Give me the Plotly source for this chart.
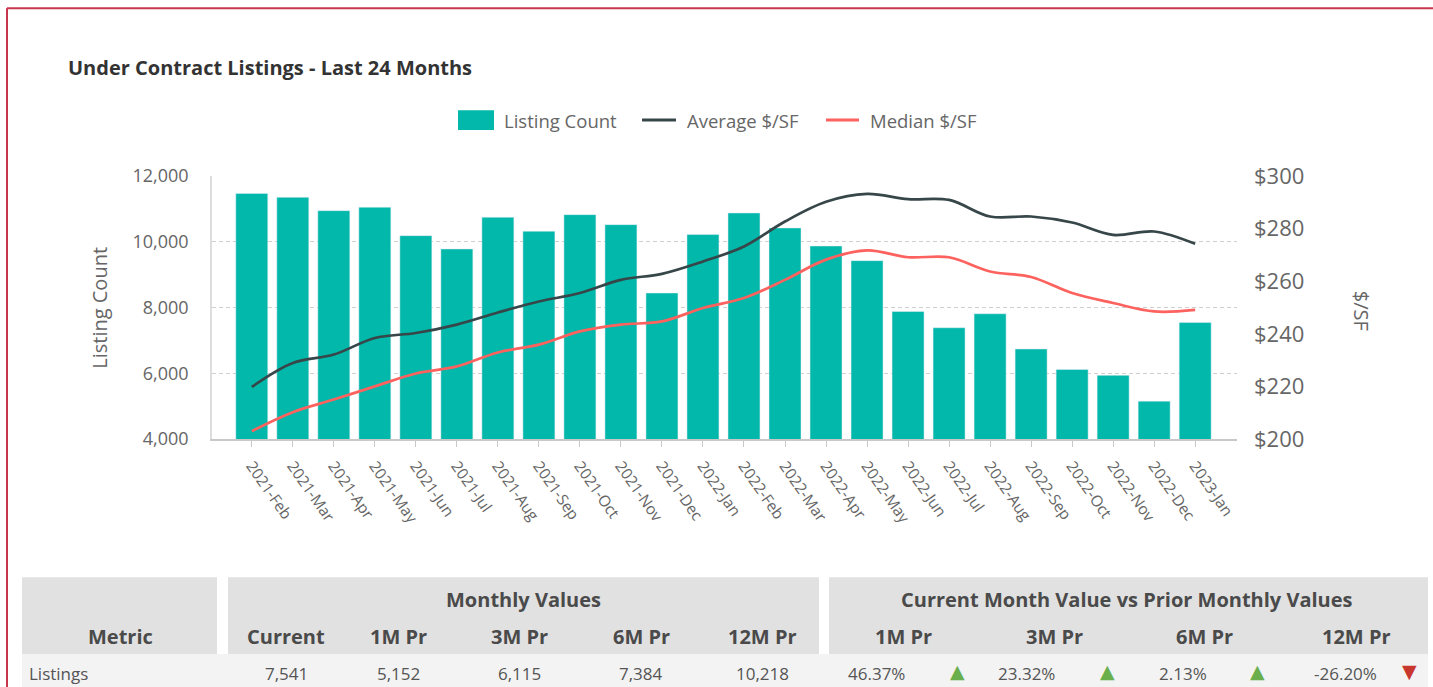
import plotly.graph_objects as go

# ---------------- data ----------------
months = ["2021-Feb", "2021-Mar", "2021-Apr", "2021-May", "2021-Jun", "2021-Jul",
          "2021-Aug", "2021-Sep", "2021-Oct", "2021-Nov", "2021-Dec", "2022-Jan",
          "2022-Feb", "2022-Mar", "2022-Apr", "2022-May", "2022-Jun", "2022-Jul",
          "2022-Aug", "2022-Sep", "2022-Oct", "2022-Nov", "2022-Dec", "2023-Jan"]
listing_count = [11470, 11350, 10945, 11050, 10185, 9780, 10745, 10320, 10825, 10520,
                 8440, 10218, 10875, 10420, 9870, 9425, 7880, 7384, 7810, 6738,
                 6115, 5937, 5152, 7541]
avg_psf = [219.8, 228.9, 232.1, 238.4, 240.3, 243.5, 248.1, 252.3, 255.5, 260.5,
           262.8, 267.5, 273.2, 282.7, 290.2, 293.2, 291.2, 290.9, 284.6, 284.6,
           282.3, 277.6, 278.9, 274.2]
med_psf = [203.0, 210.2, 215.0, 220.0, 224.9, 227.6, 232.9, 235.9, 240.9, 243.5,
           244.7, 249.8, 253.6, 260.5, 268.2, 271.7, 269.1, 269.1, 263.7, 261.6,
           255.5, 251.7, 248.5, 249.1]

table_metric = "Listings"
monthly_cols = ["Current", "1M Pr", "3M Pr", "6M Pr", "12M Pr"]
monthly_vals = ["7,541", "5,152", "6,115", "7,384", "10,218"]
compare_cols = ["1M Pr", "3M Pr", "6M Pr", "12M Pr"]
compare_vals = ["46.37%", "23.32%", "2.13%", "-26.20%"]
compare_up = [True, True, True, False]

# ---------------- layout geometry (pixels) ----------------
W, H = 1433, 687
L, R, T, B = 212, 1237, 176, 439.5
PW, PH = R - L, B - T


def fx(px):
    return (px - L) / PW


def fy(py):
    return (B - py) / PH


TEAL = "#01B8AA"
DARK = "#374649"
RED = "#FD625E"
FONT = "Open Sans"
GRAYTXT = "#666666"

fig = go.Figure()
fig.add_trace(go.Bar(x=months, y=listing_count, name="Listing Count",
                     marker=dict(color=TEAL), width=0.78, yaxis="y"))
fig.add_trace(go.Scatter(x=months, y=avg_psf, name="Average $/SF", mode="lines",
                         line=dict(color=DARK, width=2.7, shape="spline", smoothing=1.0),
                         yaxis="y2"))
fig.add_trace(go.Scatter(x=months, y=med_psf, name="Median $/SF", mode="lines",
                         line=dict(color=RED, width=2.7, shape="spline", smoothing=1.0),
                         yaxis="y2"))

shapes = []
ann = []

# red frame (left and top edges)
shapes.append(dict(type="line", xref="paper", yref="paper", x0=fx(7), x1=fx(W + 5),
                   y0=fy(8), y1=fy(8), line=dict(color="#C8364E", width=2)))
shapes.append(dict(type="line", xref="paper", yref="paper", x0=fx(7), x1=fx(7),
                   y0=fy(8), y1=fy(H + 5), line=dict(color="#C8364E", width=2)))

# title
ann.append(dict(text="<b>Under Contract Listings - Last 24 Months</b>", x=fx(66), y=fy(67),
                xref="paper", yref="paper", xanchor="left", yanchor="middle", showarrow=False,
                font=dict(family=FONT, size=20, color="#333333")))

# manual legend
shapes.append(dict(type="rect", xref="paper", yref="paper", x0=fx(458), x1=fx(494),
                   y0=fy(110), y1=fy(130), fillcolor=TEAL, line=dict(width=0)))
shapes.append(dict(type="line", xref="paper", yref="paper", x0=fx(642), x1=fx(676),
                   y0=fy(120), y1=fy(120), line=dict(color=DARK, width=3)))
shapes.append(dict(type="line", xref="paper", yref="paper", x0=fx(826), x1=fx(859),
                   y0=fy(120), y1=fy(120), line=dict(color=RED, width=3)))
for label, px in [("Listing Count", 502), ("Average $/SF", 685), ("Median $/SF", 868)]:
    ann.append(dict(text=label, x=fx(px), y=fy(120), xref="paper", yref="paper",
                    xanchor="left", yanchor="middle", showarrow=False,
                    font=dict(family=FONT, size=18.5, color=GRAYTXT)))

# axis titles
ann.append(dict(text="Listing Count", x=fx(100), y=fy(308), xref="paper", yref="paper",
                textangle=-90, showarrow=False, xanchor="center", yanchor="middle",
                font=dict(family=FONT, size=20, color=GRAYTXT)))
ann.append(dict(text="$/SF", x=fx(1361), y=fy(311), xref="paper", yref="paper",
                textangle=90, showarrow=False, xanchor="center", yanchor="middle",
                font=dict(family=FONT, size=20, color=GRAYTXT)))

# ---------------- table ----------------
HDR = "#E1E1E1"
ROW = "#F3F3F3"
hdr_top, hdr_bot, row_bot = 578, 655, H + 5
blocks = [(22, 217), (228, 819), (829, 1428)]
for x0, x1 in blocks:
    shapes.append(dict(type="rect", xref="paper", yref="paper", x0=fx(x0), x1=fx(x1),
                       y0=fy(hdr_top), y1=fy(hdr_bot), fillcolor=HDR, line=dict(width=0),
                       layer="below"))
shapes.append(dict(type="rect", xref="paper", yref="paper", x0=fx(22), x1=fx(1428),
                   y0=fy(hdr_bot), y1=fy(row_bot), fillcolor=ROW, line=dict(width=0),
                   layer="below"))

hfont = dict(family=FONT, size=20, color="#4A4A4A")
cfont = dict(family=FONT, size=17, color="#555555")


def txt(s, px, py, font, anchor="center"):
    ann.append(dict(text=s, x=fx(px), y=fy(py), xref="paper", yref="paper",
                    xanchor=anchor, yanchor="middle", showarrow=False, font=font))


txt("<b>Monthly Values</b>", 523, 600, hfont)
txt("<b>Current Month Value vs Prior Monthly Values</b>", 1127, 600, hfont)
txt("<b>Metric</b>", 120, 637, hfont)
monthly_x = [286, 398, 519, 641, 762]
for c, v, px in zip(monthly_cols, monthly_vals, monthly_x):
    txt("<b>%s</b>" % c, px, 637, hfont)
    txt(v, px, 674, cfont)
compare_x = [903, 1054, 1204, 1356]
compare_val_x = [876, 1026, 1183, 1345]
compare_tri_x = [957, 1107, 1257, 1409]
for c, v, up, px, vx, tx in zip(compare_cols, compare_vals, compare_up,
                                compare_x, compare_val_x, compare_tri_x):
    txt("<b>%s</b>" % c, px, 637, hfont)
    txt(v, vx, 674, cfont)
    txt("▲" if up else "▼", tx, 672,
        dict(family="DejaVu Sans", size=19, color="#6AAF4C" if up else "#C8372D"))
txt(table_metric, 27, 674, cfont, anchor="left")

fig.update_layout(
    width=W, height=H, autosize=False,
    margin=dict(l=L, r=W - R, t=T, b=H - B),
    paper_bgcolor="white", plot_bgcolor="white",
    showlegend=False, bargap=0.2,
    font=dict(family=FONT, color=GRAYTXT),
    shapes=shapes, annotations=ann,
    xaxis=dict(type="category", range=[-0.97, 24.02], tickangle=55,
               tickfont=dict(family=FONT, size=15.5, color=GRAYTXT),
               showline=True, linecolor="#C8C8C8", linewidth=1.5,
               ticks="outside", ticklen=6, tickcolor="#C8C8C8", showgrid=False,
               ticklabelstandoff=4),
    yaxis=dict(range=[4000, 12000], dtick=2000, tickformat=",",
               tickfont=dict(family=FONT, size=18, color=GRAYTXT),
               showline=True, linecolor="#DDDDDD", linewidth=1.5,
               showgrid=True, gridcolor="#CFCFCF", griddash="4px,3px", gridwidth=1,
               zeroline=False, ticks="", ticklabelstandoff=18),
    yaxis2=dict(range=[200, 300], dtick=20, tickprefix="$", overlaying="y", side="right",
                tickfont=dict(family=FONT, size=22, color=GRAYTXT),
                showgrid=False, zeroline=False, showline=False, ticks="",
                ticklabelstandoff=16),
)

fig.write_html("out.html", post_script="document.body.style.margin='0';",
               config={"displayModeBar": False})
